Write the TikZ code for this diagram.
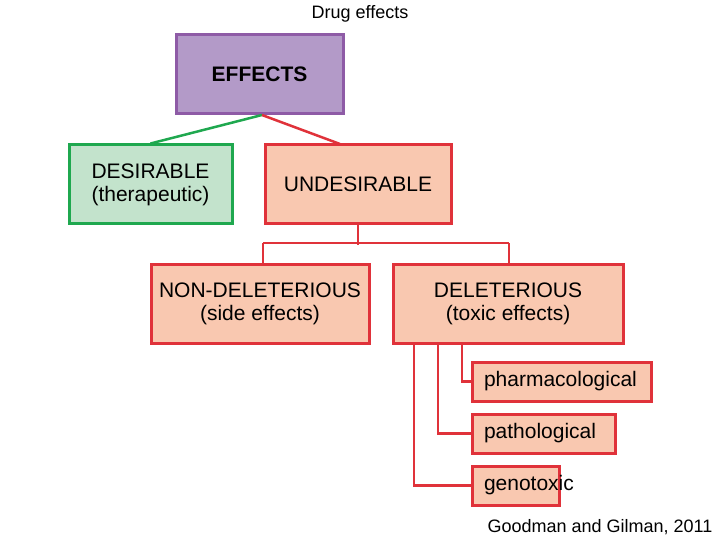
\documentclass[tikz,border=0pt]{standalone}
\usepackage{fontspec}
\setmainfont{Liberation Sans}
\begin{document}
\begin{tikzpicture}[x=1pt,y=-1pt,
 bx/.style={draw=rbd,fill=rfl,line width=3pt,inner sep=0pt,font=\fontsize{21}{23}\selectfont,align=center},
 ln/.style={draw=rbd,line width=2.5pt}]
\definecolor{rbd}{HTML}{E0323A}\definecolor{rfl}{HTML}{F9C8B0}
\definecolor{pbd}{HTML}{8E5BA6}\definecolor{pfl}{HTML}{B39AC8}
\definecolor{gbd}{HTML}{1FA84F}\definecolor{gfl}{HTML}{C3E3CC}
\useasboundingbox[fill=white] (0,0) rectangle (720,540);
\node[font=\fontsize{18}{20}\selectfont] (title) at (360,14) {Drug effects};
\node[font=\fontsize{18}{20}\selectfont] (src) at (600,527) {Goodman and Gilman, 2011};
\node[bx,draw=pbd,fill=pfl,minimum width=167pt,minimum height=79pt] (eff) at (259.5,74.5) {\textbf{EFFECTS}};
\node[bx,draw=gbd,fill=gfl,minimum width=163pt,minimum height=79pt] (des) at (150.5,184.5) {DESIRABLE\\(therapeutic)};
\node[bx,minimum width=186pt,minimum height=79pt] (und) at (358,184.5) {UNDESIRABLE};
\node[bx,minimum width=218pt,minimum height=79pt] (non) at (260,303.5) {NON-DELETERIOUS\\(side effects)};
\node[bx,minimum width=230pt,minimum height=79pt] (del) at (508,303.5) {DELETERIOUS\\(toxic effects)};
\node[bx,minimum width=179pt,minimum height=39pt,text width=155pt,align=left] (pha) at (561.5,381.5) {pharmacological};
\node[bx,minimum width=143pt,minimum height=39pt,text width=119pt,align=left] (pat) at (543.5,433.5) {pathological};
\node[bx,minimum width=87pt,minimum height=39pt,text width=63pt,align=left] (gen) at (515.5,485.5) {genotoxic};
\draw[draw=gbd,line width=2.5pt] (262,115) -- (des.north);
\draw[ln] (262,115) -- (340,144);
\draw[ln] (und.south) -- ++(0,19) coordinate (j);
\draw[ln] (263,243) -- (509,243);
\draw[ln] (263,243) -- (non.north -| 263,0);
\draw[ln] (509,243) -- (del.north -| 509,0);
\draw[ln] (462,344) |- (pha.west);
\draw[ln] (438,344) |- (pat.west);
\draw[ln] (414,344) |- (gen.west);
\end{tikzpicture}
\end{document}
